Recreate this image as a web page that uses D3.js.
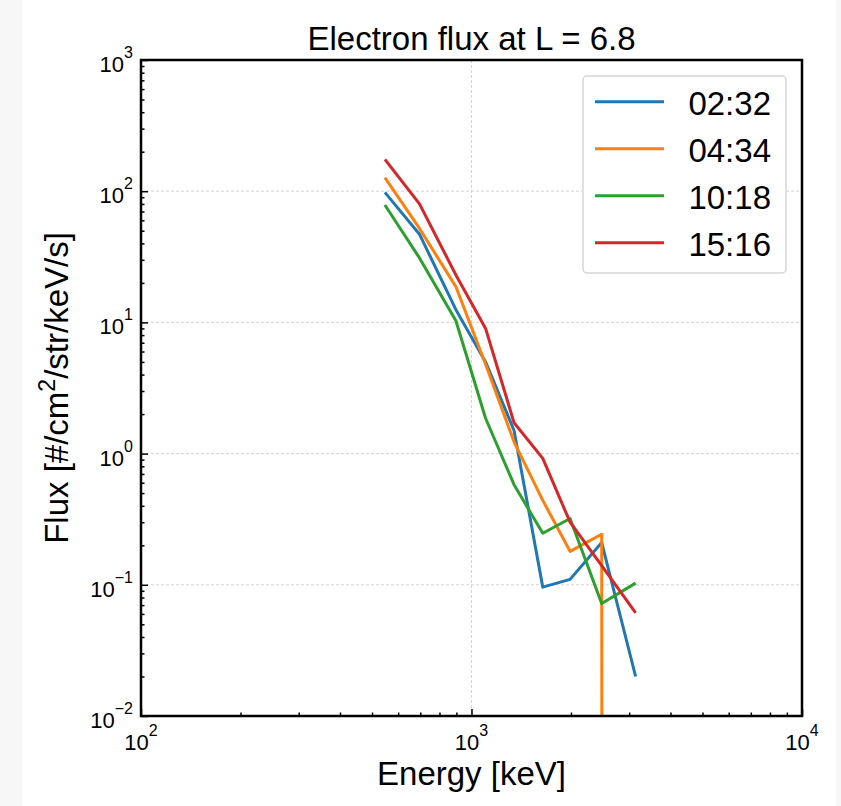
<!DOCTYPE html>
<html>
<head>
<meta charset="utf-8">
<script src="https://cdn.jsdelivr.net/npm/d3@7"></script>
<style>
  body { margin: 0; background: #f7f7f7; }
  svg { display: block; font-family: "Liberation Sans", Arial, sans-serif; }
</style>
</head>
<body>
<script>
const width = 841, height = 806;
const margin = {left: 141, right: 802, top: 60, bottom: 716};

// energies [keV] and flux spectra
const energy = [547, 696, 897, 1103, 1345, 1643, 1987, 2477, 3138];
const times = ["02:32", "04:34", "10:18", "15:16"];
const flux0232 = [98, 47, 12.5, 5.0, 1.5, 0.096, 0.110, 0.21, 0.020];
const flux0434 = [127, 52, 18.7, 4.8, 1.23, 0.44, 0.18, 0.243, 0];
const flux1018 = [78.5, 31, 10.3, 1.86, 0.58, 0.247, 0.32, 0.072, 0.103];
const flux1516 = [175, 80, 23, 9.0, 1.72, 0.92, 0.30, 0.14, 0.061];
const seriesValues = [flux0232, flux0434, flux1018, flux1516];
const colors = ["#1f77b4", "#ff7f0e", "#2ca02c", "#d62728"];

const xMajor = [100, 1000, 10000];
const yMajor = [0.01, 0.1, 1, 10, 100, 1000];

const svg = d3.select("body").append("svg").attr("width", width).attr("height", height);
svg.append("rect").attr("x", 22).attr("y", 0).attr("width", 814).attr("height", height).attr("fill", "#ffffff");

const x = d3.scaleLog().domain([100, 10000]).range([margin.left, margin.right]);
const y = d3.scaleLog().domain([0.01, 1000]).range([margin.bottom, margin.top]);

const minorOf = ext => {
  const out = [];
  for (let e = ext[0]; e < ext[1]; e++) for (let k = 2; k <= 9; k++) out.push(k * Math.pow(10, e));
  return out;
};
const xMinor = minorOf([2, 4]);
const yMinor = minorOf([-2, 3]);

// grid
const grid = svg.append("g").attr("stroke", "#cfcfcf").attr("stroke-width", 0.9).attr("stroke-dasharray", "3,2");
grid.selectAll("line.h").data(yMajor.slice(1, -1)).join("line").attr("class", "h")
  .attr("x1", margin.left).attr("x2", margin.right).attr("y1", d => y(d)).attr("y2", d => y(d));
grid.selectAll("line.v").data(xMajor.slice(1, -1)).join("line").attr("class", "v")
  .attr("y1", margin.top).attr("y2", margin.bottom).attr("x1", d => x(d)).attr("x2", d => x(d));

// data lines
svg.append("clipPath").attr("id", "plotclip").append("rect")
  .attr("x", margin.left).attr("y", margin.top)
  .attr("width", margin.right - margin.left).attr("height", margin.bottom - margin.top);

const line = d3.line()
  .x(d => x(d[0]))
  .y(d => d[1] > 0 ? y(d[1]) : y(1e-300));

svg.append("g").attr("clip-path", "url(#plotclip)")
  .selectAll("path").data(seriesValues).join("path")
  .attr("d", vals => line(energy.map((e, i) => [e, vals[i]])))
  .attr("fill", "none")
  .attr("stroke", (d, i) => colors[i])
  .attr("stroke-width", 3)
  .attr("stroke-linejoin", "round");

// axes: inward ticks
const styleAxis = g => { g.select(".domain").remove(); g.selectAll("line").attr("stroke", "#000").attr("stroke-width", 1.5); };
svg.append("g").attr("transform", `translate(0,${margin.bottom})`)
  .call(d3.axisBottom(x).tickValues(xMinor).tickSize(-3.5).tickFormat("")).call(styleAxis);
svg.append("g").attr("transform", `translate(0,${margin.bottom})`)
  .call(d3.axisBottom(x).tickValues(xMajor).tickSize(-7).tickFormat("")).call(styleAxis);
svg.append("g").attr("transform", `translate(${margin.left},0)`)
  .call(d3.axisLeft(y).tickValues(yMinor).tickSize(-3.5).tickFormat("")).call(styleAxis);
svg.append("g").attr("transform", `translate(${margin.left},0)`)
  .call(d3.axisLeft(y).tickValues(yMajor).tickSize(-7).tickFormat("")).call(styleAxis);

// frame
svg.append("rect").attr("x", margin.left).attr("y", margin.top)
  .attr("width", margin.right - margin.left).attr("height", margin.bottom - margin.top)
  .attr("fill", "none").attr("stroke", "#000").attr("stroke-width", 2.5);

// tick labels 10^n
const expText = v => { const e = Math.round(Math.log10(v)); return e < 0 ? "\u2212" + (-e) : String(e); };
svg.append("g").selectAll("text").data(xMajor).join("text")
  .attr("x", d => x(d)).attr("y", margin.bottom + 34)
  .attr("text-anchor", "middle").attr("font-size", 22)
  .each(function(d) {
    const t = d3.select(this);
    t.append("tspan").text("10");
    t.append("tspan").attr("dy", -14).attr("font-size", 16).text(expText(d));
  });
svg.append("g").selectAll("text").data(yMajor).join("text")
  .attr("x", margin.left - 8).attr("y", d => y(d) + 12)
  .attr("text-anchor", "end").attr("font-size", 22)
  .each(function(d) {
    const t = d3.select(this);
    t.append("tspan").text("10");
    t.append("tspan").attr("dy", -14).attr("font-size", 16).text(expText(d));
  });

// title and axis labels
const cx = (margin.left + margin.right) / 2;
svg.append("text").attr("x", cx).attr("y", 50).attr("text-anchor", "middle").attr("font-size", 33)
  .text("Electron flux at L = 6.8");
svg.append("text").attr("x", cx).attr("y", 785).attr("text-anchor", "middle").attr("font-size", 33)
  .text("Energy [keV]");
const yl = svg.append("text").attr("transform", `translate(68,${(margin.top + margin.bottom) / 2}) rotate(-90)`)
  .attr("text-anchor", "middle").attr("font-size", 33);
yl.append("tspan").text("Flux [#/cm");
yl.append("tspan").attr("dy", -13).attr("font-size", 23).text("2");
yl.append("tspan").attr("dy", 13).text("/str/keV/s]");

// legend
const legend = svg.append("g");
legend.append("rect").attr("x", 583).attr("y", 76).attr("width", 203).attr("height", 197)
  .attr("rx", 4).attr("fill", "#fff").attr("stroke", "#d6d6d6").attr("stroke-width", 1.5);
const rows = legend.selectAll("g.row").data(times).join("g").attr("class", "row")
  .attr("transform", (d, i) => `translate(0,${101.7 + i * 47})`);
rows.append("line").attr("x1", 595).attr("x2", 664)
  .attr("stroke", (d, i) => colors[i]).attr("stroke-width", 3);
rows.append("text").attr("x", 771).attr("y", 13).attr("text-anchor", "end").attr("font-size", 33)
  .text(d => d);
</script>
</body>
</html>
